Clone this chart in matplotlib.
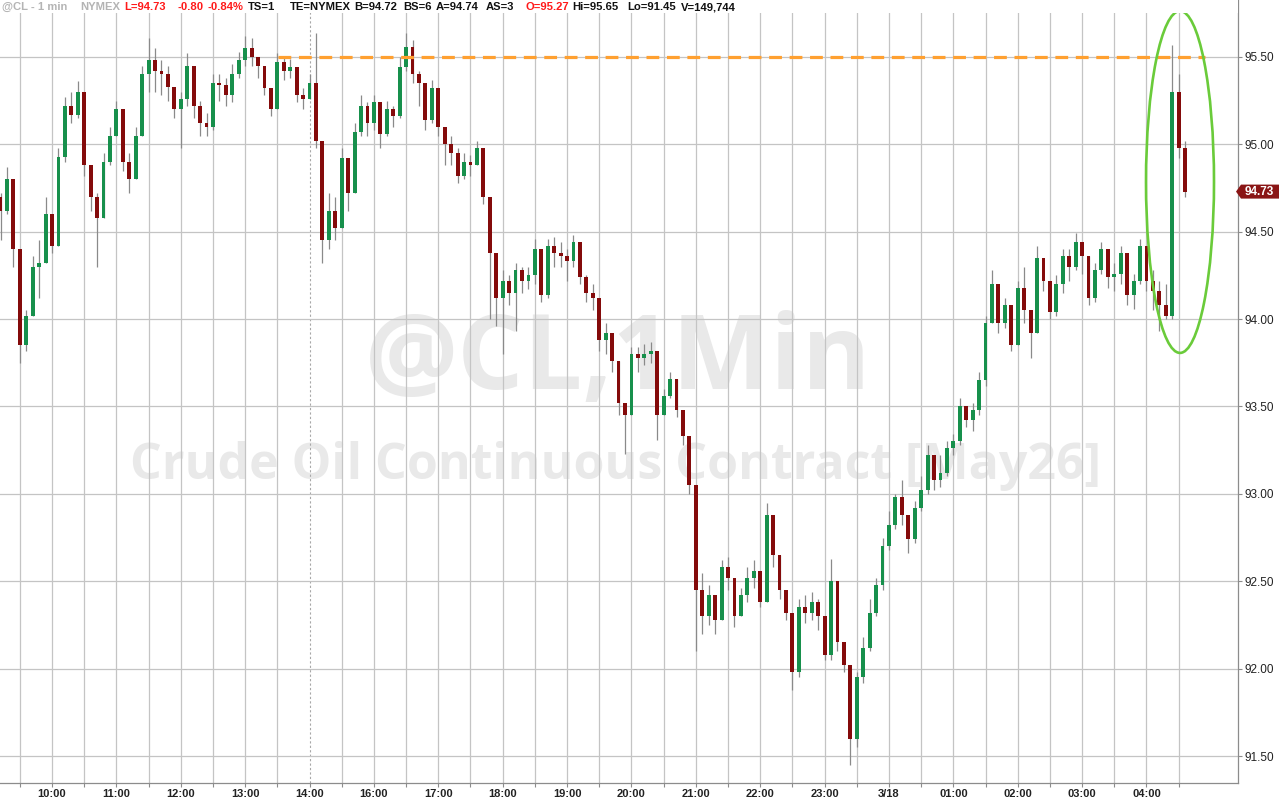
import numpy as np
import matplotlib
matplotlib.use('Agg')
import matplotlib.pyplot as plt
from matplotlib.patches import Ellipse, Polygon, Rectangle

plt.rcParams['font.family'] = ['Liberation Sans', 'DejaVu Sans']

# --- data: 6-minute bars (t = minutes from 10:00, session gap removed) ---
bar_start = -48
bar_step = 6
first_open = 94.70

closes = [
    94.62, 94.80, 94.40, 93.85, 94.02, 94.30, 94.32, 94.60, 94.42, 94.93,
    95.22, 95.17, 95.30, 94.88, 94.70, 94.58, 94.90, 95.05, 95.20, 94.90,
    94.80, 95.05, 95.40, 95.48, 95.42, 95.40, 95.33, 95.20, 95.26, 95.45,
    95.22, 95.12, 95.10, 95.35, 95.34, 95.28, 95.40, 95.48, 95.55, 95.50,
    95.45, 95.32, 95.20, 95.47, 95.42, 95.44, 95.28, 95.26, 95.35, 95.02,
    94.45, 94.62, 94.52, 94.92, 94.72, 95.07, 95.22, 95.12, 95.24, 95.06,
    95.20, 95.16, 95.44, 95.56, 95.40, 95.35, 95.14, 95.32, 95.10, 95.00,
    94.95, 94.82, 94.90, 94.88, 94.98, 94.70, 94.38, 94.12, 94.22, 94.15,
    94.28, 94.22, 94.25, 94.40, 94.14, 94.42, 94.38, 94.36, 94.33, 94.44,
    94.24, 94.15, 94.12, 93.88, 93.92, 93.76, 93.52, 93.45, 93.80, 93.78,
    93.80, 93.82, 93.45, 93.56, 93.66, 93.48, 93.33, 93.05, 92.45, 92.30,
    92.42, 92.28, 92.58, 92.52, 92.30, 92.42, 92.52, 92.56, 92.38, 92.88,
    92.65, 92.45, 92.32, 91.98, 92.35, 92.32, 92.38, 92.30, 92.08, 92.50,
    92.15, 92.02, 91.60, 91.95, 92.12, 92.32, 92.48, 92.70, 92.82, 92.98,
    92.88, 92.74, 92.92, 93.02, 93.22, 93.08, 93.12, 93.26, 93.30, 93.50,
    93.42, 93.48, 93.65, 93.98, 94.20, 93.98, 94.08, 93.85, 94.18, 94.05,
    93.92, 94.35, 94.22, 94.04, 94.20, 94.36, 94.30, 94.44, 94.36, 94.12,
    94.28, 94.40, 94.24, 94.26, 94.38, 94.14, 94.22, 94.42, 94.22, 94.16,
    94.08, 94.02, 95.30, 94.98, 94.73,
]
highs = [
    94.72, 94.87, 94.68, 94.15, 94.05, 94.36, 94.45, 94.70, 94.58, 94.98,
    95.27, 95.30, 95.36, 95.20, 94.82, 94.72, 94.95, 95.10, 95.25, 95.18,
    94.95, 95.10, 95.45, 95.61, 95.55, 95.48, 95.45, 95.32, 95.30, 95.52,
    95.42, 95.25, 95.18, 95.40, 95.40, 95.38, 95.46, 95.53, 95.62, 95.61,
    95.50, 95.45, 95.32, 95.52, 95.50, 95.49, 95.40, 95.32, 95.40, 95.64,
    95.02, 94.72, 94.70, 94.98, 94.90, 95.12, 95.28, 95.24, 95.28, 95.22,
    95.25, 95.22, 95.50, 95.64, 95.60, 95.42, 95.30, 95.37, 95.32, 95.10,
    95.05, 94.98, 94.95, 94.94, 95.02, 94.95, 94.68, 94.35, 94.28, 94.25,
    94.32, 94.30, 94.30, 94.46, 94.38, 94.46, 94.47, 94.44, 94.40, 94.48,
    94.42, 94.25, 94.20, 94.08, 93.98, 93.88, 93.72, 93.50, 93.84, 93.84,
    93.86, 93.87, 93.66, 93.60, 93.70, 93.60, 93.46, 93.32, 92.95, 92.55,
    92.48, 92.42, 92.62, 92.64, 92.50, 92.46, 92.58, 92.62, 92.55, 92.95,
    92.84, 92.60, 92.42, 92.30, 92.40, 92.42, 92.44, 92.40, 92.28, 92.63,
    92.45, 92.12, 91.95, 91.98, 92.18, 92.40, 92.52, 92.75, 92.90, 93.00,
    93.08, 92.86, 92.96, 93.10, 93.28, 93.20, 93.22, 93.30, 93.34, 93.55,
    93.50, 93.52, 93.70, 94.02, 94.28, 94.15, 94.12, 94.00, 94.22, 94.30,
    94.05, 94.42, 94.30, 94.20, 94.25, 94.40, 94.40, 94.49, 94.42, 94.32,
    94.32, 94.44, 94.38, 94.32, 94.42, 94.36, 94.26, 94.46, 94.40, 94.28,
    94.22, 94.20, 95.57, 95.40, 95.02,
]
lows = [
    94.45, 94.60, 94.30, 93.75, 93.82, 94.10, 94.12, 94.35, 94.38, 94.45,
    94.90, 95.12, 95.15, 94.82, 94.62, 94.30, 94.60, 94.88, 95.05, 94.85,
    94.72, 94.85, 95.05, 95.30, 95.30, 95.28, 95.25, 95.15, 94.98, 95.22,
    95.15, 95.05, 95.05, 95.08, 95.25, 95.22, 95.24, 95.38, 95.45, 95.45,
    95.38, 95.28, 95.16, 95.22, 95.37, 95.38, 95.24, 95.20, 95.28, 94.98,
    94.32, 94.40, 94.45, 94.55, 94.62, 94.72, 95.05, 95.05, 95.08, 94.98,
    95.05, 95.10, 95.15, 95.42, 95.35, 95.22, 95.08, 95.12, 95.05, 94.88,
    94.88, 94.78, 94.80, 94.82, 94.88, 94.66, 94.00, 93.96, 93.80, 94.08,
    93.93, 94.15, 94.17, 94.20, 94.10, 94.12, 94.30, 94.30, 94.22, 94.30,
    94.20, 94.10, 94.05, 93.82, 93.80, 93.70, 93.45, 93.23, 93.45, 93.70,
    93.74, 93.75, 93.31, 93.48, 93.55, 93.44, 93.28, 93.00, 92.10, 92.20,
    92.25, 92.20, 92.28, 92.45, 92.24, 92.30, 92.38, 92.46, 92.35, 92.38,
    92.58, 92.40, 92.28, 91.88, 91.95, 92.26, 92.28, 92.22, 92.05, 92.05,
    92.10, 91.98, 91.45, 91.55, 91.92, 92.10, 92.30, 92.45, 92.68, 92.80,
    92.82, 92.66, 92.72, 92.90, 93.00, 93.02, 93.04, 93.10, 93.22, 93.28,
    93.38, 93.36, 93.45, 93.62, 93.98, 93.92, 93.95, 93.82, 93.85, 93.98,
    93.78, 93.92, 94.16, 94.00, 94.02, 94.15, 94.22, 94.28, 94.26, 94.08,
    94.10, 94.26, 94.18, 94.16, 94.20, 94.08, 94.06, 94.20, 94.16, 94.05,
    93.93, 94.00, 94.00, 94.92, 94.70,
]

# axis labels
hour_ticks = [0, 60, 120, 180, 240, 300, 360, 420, 480, 540, 600, 660, 720, 780, 840, 900, 960, 1020]
hour_labels = ['10:00', '11:00', '12:00', '13:00', '14:00', '16:00', '17:00', '18:00', '19:00',
               '20:00', '21:00', '22:00', '23:00', '3/18', '01:00', '02:00', '03:00', '04:00']
session_break = 240
price_ticks = [91.5, 92.0, 92.5, 93.0, 93.5, 94.0, 94.5, 95.0, 95.5]
last_price = 94.73
resist_level = 95.50

header = [
    ('@CL - 1 min', 2, '#b4b4b4'), ('NYMEX', 80, '#b4b4b4'),
    ('L=94.73', 124, '#ff1a1a'), ('-0.80', 177, '#ff1a1a'), ('-0.84%', 207, '#ff1a1a'),
    ('TS=1', 248, '#111111'), ('TE=NYMEX', 290, '#111111'), ('B=94.72', 354, '#111111'),
    ('BS=6', 403, '#111111'), ('A=94.74', 436, '#111111'), ('AS=3', 486, '#111111'),
    ('O=95.27', 525, '#ff1a1a'), ('Hi=95.65', 572, '#111111'), ('Lo=91.45', 627, '#111111'),
    ('V=149,744', 681, '#111111'),
]

# --- figure ---
W, H = 1280, 799
fig = plt.figure(figsize=(W / 100, H / 100), dpi=100)
ax = fig.add_axes([0, (H - 783) / H, 1238 / W, 783 / H])

px_per_min = 1.073
px_per_usd = 174.8
ax.set_xlim(-48.5, (1238 - 52) / px_per_min)
ax.set_ylim(91.5 - (783 - 756) / px_per_usd, 95.5 + 57 / px_per_usd)

# grid
grid_c = '#c4c4c4'
for g in np.arange(-30, 1051, 30):
    if g == session_break:
        ax.axvline(g, color='#a8a8a8', lw=0.8, ls=(0, (2, 2)), zorder=1)
    else:
        ax.axvline(g, color=grid_c, lw=0.9, zorder=1)
for p in price_ticks:
    ax.axhline(p, color=grid_c, lw=0.9, zorder=1)

# watermark
ax.text(618 / 1238, 1 - 362 / 783, '@CL,1Min', transform=ax.transAxes, ha='center', va='center',
        fontsize=75, fontweight='bold', family='Open Sans', color='#e9e9e9', zorder=0)
ax.text(616 / 1238, 1 - 466 / 783, 'Crude Oil Continuous Contract [May26]', transform=ax.transAxes,
        ha='center', va='center', fontsize=36, fontweight='bold', family='Open Sans',
        color='#e9e9e9', zorder=0)

# candles
c = np.array(closes)
o = np.concatenate([[first_open], c[:-1]])
hi = np.maximum(np.array(highs), np.maximum(o, c))
lo = np.minimum(np.array(lows), np.minimum(o, c))
t = bar_start + bar_step * np.arange(len(c))
up = c >= o
ax.vlines(t, lo, hi, color='#8a8a8a', lw=0.9, zorder=2)
body_lo = np.minimum(o, c)
body_h = np.maximum(np.abs(c - o), 0.012)
ax.bar(t, body_h, bottom=body_lo, width=3.6, color=np.where(up, '#17904c', '#840b0b'),
       linewidth=0, zorder=3)

# resistance line + highlight
ax.hlines(resist_level, (278 - 52) / px_per_min, (1205 - 52) / px_per_min, colors='#ffa030',
          lw=2.3, linestyles=(0, (4, 2.4)), zorder=4)
ax.add_patch(Ellipse(((1180 - 52) / px_per_min, 95.5 - (182 - 57) / px_per_usd),
                     68 / px_per_min, 342 / px_per_usd, fill=False, ec='#6acb3a', lw=1.9,
                     zorder=5, clip_on=False))

# axes styling
for s in ['top', 'left']:
    ax.spines[s].set_visible(False)
ax.spines['right'].set_color('#8c8c8c')
ax.spines['bottom'].set_color('#8c8c8c')
ax.spines['right'].set_linewidth(0.9)
ax.spines['bottom'].set_linewidth(0.9)

ax.yaxis.tick_right()
ax.set_yticks(price_ticks)
ax.set_yticklabels([f'{p:.2f}' for p in price_ticks])
ax.tick_params(axis='y', length=3, width=0.8, color='#8c8c8c', pad=1.5, labelsize=8.5,
               labelcolor='#222222')

minor = [g for g in np.arange(-30, 1051, 30) if g not in hour_ticks]
ax.set_xticks(hour_ticks)
ax.set_xticklabels(hour_labels, fontweight='bold')
ax.set_xticks(minor, minor=True)
ax.tick_params(axis='x', which='both', length=3, width=0.8, color='#8c8c8c', pad=1.5,
               labelsize=8, labelcolor='#222222')

# header band
fig.add_artist(Rectangle((0, 1 - 13 / H), 1238 / W, 13 / H, transform=fig.transFigure,
                         facecolor='white', edgecolor='none', zorder=2))
for txt, x, col in header:
    fig.text(x / W, 1 - 7 / H, txt, ha='left', va='center', fontsize=8.1, fontweight='bold',
             color=col, zorder=3)

# last price tag
tag_y = 1 - (57 + (95.5 - last_price) * px_per_usd) / H
tag = [(1236 / W, tag_y), (1241 / W, tag_y + 7 / H), (1279 / W, tag_y + 7 / H),
       (1279 / W, tag_y - 7 / H), (1241 / W, tag_y - 7 / H)]
fig.add_artist(Polygon(tag, closed=True, transform=fig.transFigure, facecolor='#8a1515',
                       edgecolor='none', zorder=4))
fig.text(1259 / W, tag_y, f'{last_price:.2f}', ha='center', va='center', fontsize=8.5,
         fontweight='bold', color='white', zorder=5)

fig.savefig('out.png', dpi=100)
